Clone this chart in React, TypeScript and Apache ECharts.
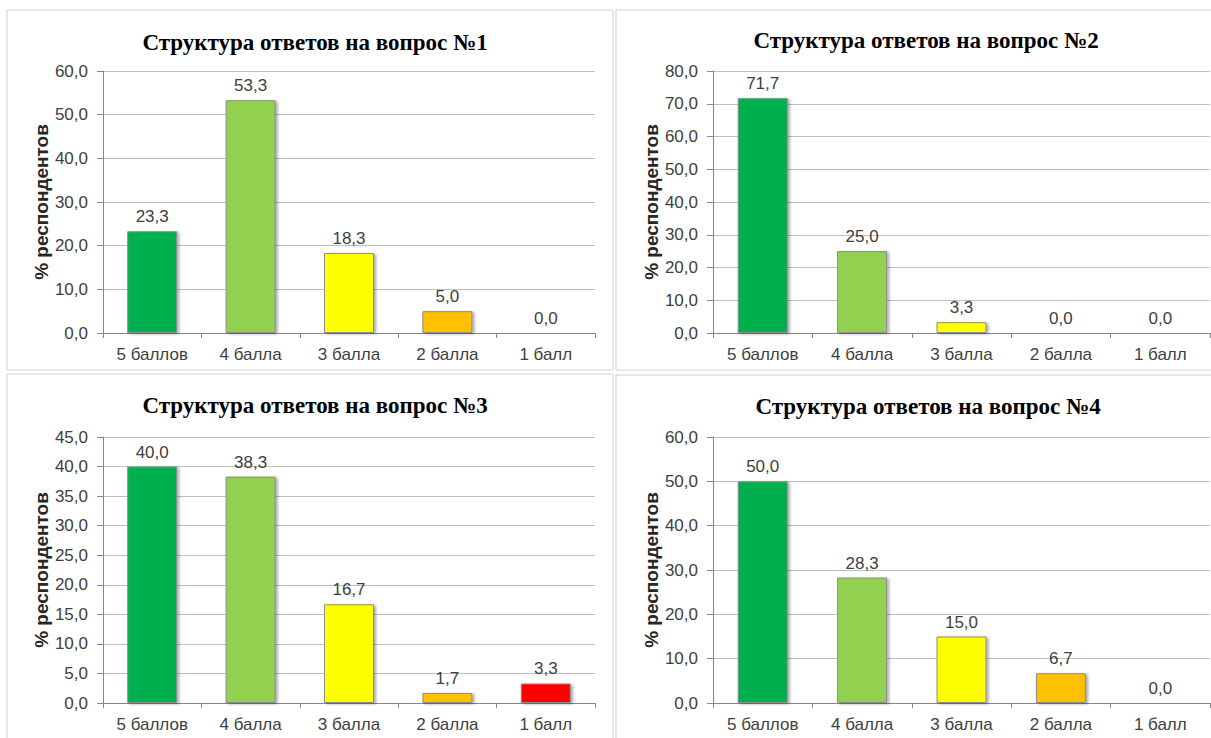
import React, { useEffect, useRef } from "react";
import * as echarts from "echarts";

const categories = ["5 баллов", "4 балла", "3 балла", "2 балла", "1 балл"];
const barColors = ["#00b050", "#92d050", "#ffff00", "#ffc000", "#ff0000"];

const titles = [
  "Структура ответов на вопрос №1",
  "Структура ответов на вопрос №2",
  "Структура ответов на вопрос №3",
  "Структура ответов на вопрос №4",
];

const q1Values = [23.3, 53.3, 18.3, 5.0, 0.0];
const q2Values = [71.7, 25.0, 3.3, 0.0, 0.0];
const q3Values = [40.0, 38.3, 16.7, 1.7, 3.3];
const q4Values = [50.0, 28.3, 15.0, 6.7, 0.0];

const yMax = [60, 80, 45, 60];
const yInterval = [10, 10, 5, 10];

const yAxisName = "% респондентов";

const fmt = (v: number) => v.toFixed(1).replace(".", ",");

export default function App() {
  const ref = useRef<HTMLDivElement>(null);

  useEffect(() => {
    if (!ref.current) return;
    const chart = echarts.init(ref.current, null, { renderer: "svg" });
    const values = [q1Values, q2Values, q3Values, q4Values];

    const grids = [
      { left: 103, top: 71, width: 492, height: 262 },
      { left: 713, top: 71, width: 497, height: 262 },
      { left: 103, top: 437, width: 492, height: 266 },
      { left: 713, top: 437, width: 497, height: 266 },
    ];
    const titlePos = [
      { x: 310, y: 26 },
      { x: 921, y: 24 },
      { x: 310, y: 389 },
      { x: 923, y: 390 },
    ];

    const textColor = "#404040";
    const axisColor = "#868686";

    const option: any = {
      animation: false,
      backgroundColor: "#ffffff",
      title: titles.map((t, i) => ({
        text: t,
        left: titlePos[i].x,
        top: titlePos[i].y,
        textAlign: "center",
        textStyle: {
          fontFamily: "Liberation Serif",
          fontWeight: "bold",
          fontSize: 23,
          color: "#000000",
        },
      })),
      grid: grids,
      xAxis: grids.map((_, i) => ({
        type: "category",
        gridIndex: i,
        data: categories,
        axisLine: { show: true, lineStyle: { color: axisColor, width: 1 } },
        axisTick: { show: true, length: 5, lineStyle: { color: axisColor } },
        axisLabel: {
          color: textColor,
          fontFamily: "Liberation Sans",
          fontSize: 17,
          margin: 13,
        },
      })),
      yAxis: grids.map((_, i) => ({
        type: "value",
        gridIndex: i,
        min: 0,
        max: yMax[i],
        interval: yInterval[i],
        name: yAxisName,
        nameLocation: "middle",
        nameGap: 51,
        nameRotate: 90,
        nameTextStyle: {
          fontFamily: "Liberation Sans",
          fontWeight: "bold",
          fontSize: 19,
          color: "#262626",
        },
        axisLine: { show: true, lineStyle: { color: axisColor, width: 1 } },
        axisTick: { show: true, length: 6, lineStyle: { color: axisColor } },
        axisLabel: {
          color: textColor,
          fontFamily: "Liberation Sans",
          fontSize: 17,
          margin: 15,
          formatter: (v: number) => fmt(v),
        },
        splitLine: { show: true, lineStyle: { color: "#bfbfbf", width: 1 } },
      })),
      series: values.map((vals, i) => ({
        type: "bar",
        xAxisIndex: i,
        yAxisIndex: i,
        barWidth: 50,
        data: vals.map((v, j) => ({
          value: v,
          itemStyle: {
            color: barColors[j],
            borderColor: "#8c8c8c",
            borderWidth: 1,
            shadowColor: "rgba(0,0,0,0.35)",
            shadowBlur: 3,
            shadowOffsetX: 2,
            shadowOffsetY: 1,
          },
        })),
        label: {
          show: true,
          position: "top",
          distance: 6,
          color: textColor,
          fontFamily: "Liberation Sans",
          fontSize: 17,
          formatter: (p: any) => fmt(p.value),
        },
      })),
      graphic: [
        { type: "rect", shape: { x: 7, y: 10, width: 606, height: 360 }, style: { fill: "none", stroke: "#d0d0d0", lineWidth: 1 }, silent: true, z: -1 },
        { type: "rect", shape: { x: 616, y: 10, width: 600, height: 360 }, style: { fill: "none", stroke: "#d0d0d0", lineWidth: 1 }, silent: true, z: -1 },
        { type: "rect", shape: { x: 7, y: 374, width: 606, height: 370 }, style: { fill: "none", stroke: "#d0d0d0", lineWidth: 1 }, silent: true, z: -1 },
        { type: "rect", shape: { x: 616, y: 375, width: 600, height: 370 }, style: { fill: "none", stroke: "#d0d0d0", lineWidth: 1 }, silent: true, z: -1 },
      ],
    };

    chart.setOption(option);
    return () => chart.dispose();
  }, []);

  return (
    <div
      ref={ref}
      style={{ position: "absolute", left: 0, top: 0, width: 1211, height: 738 }}
    />
  );
}
